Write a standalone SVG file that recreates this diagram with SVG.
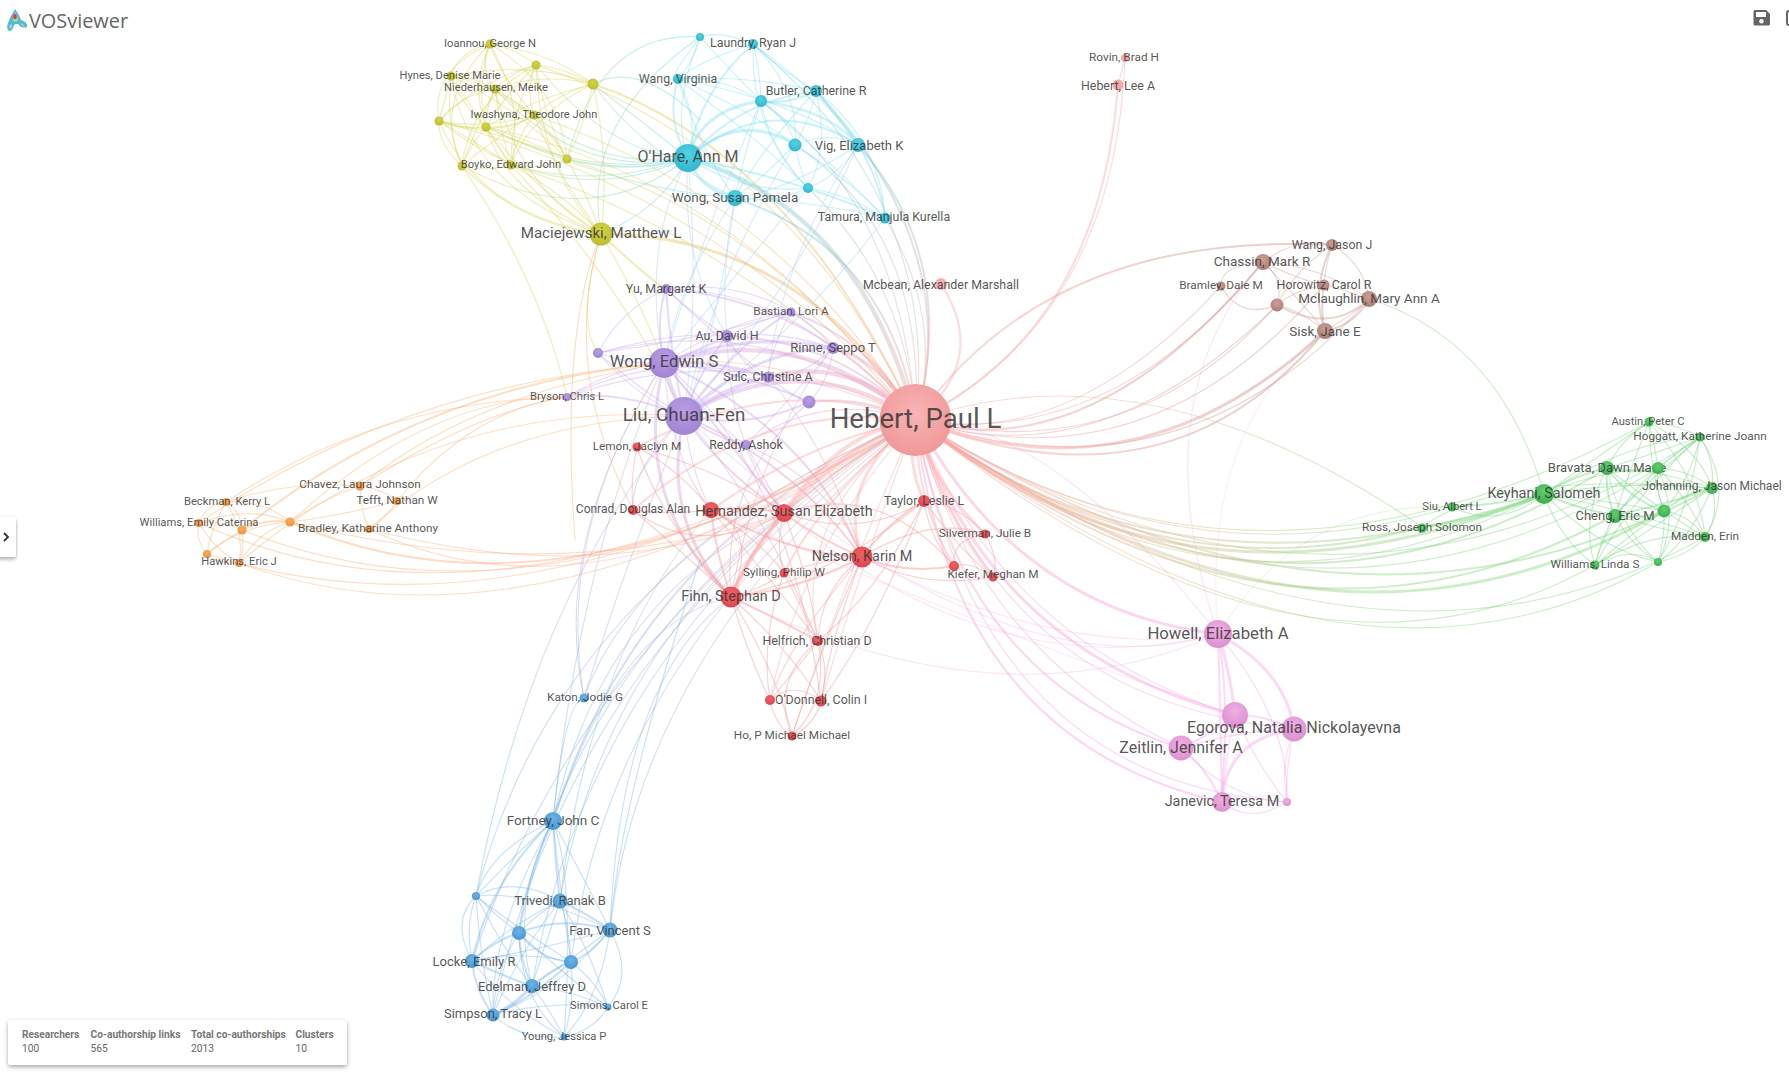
<svg xmlns="http://www.w3.org/2000/svg" width="1789" height="1076" viewBox="0 0 1789 1076">
<style>
text{font-family:Roboto,"Liberation Sans",sans-serif;fill:#333;fill-opacity:.84;text-anchor:middle;dominant-baseline:central}
.f27{font-size:27.6px}.f19{font-size:18.8px}.f17{font-size:16.7px}.f16{font-size:16px}.f15{font-size:15.1px}.f14{font-size:14.4px}.f13{font-size:13.5px}.f12d{font-size:13px}.f12c{font-size:12.4px}.f12{font-size:12px}.f11b{font-size:11.8px}.f11{font-size:11.2px}
#connectors path{fill:none;stroke-width:1.1;stroke-opacity:.42;stroke-linecap:round}
#connectors path.w2{stroke-width:2}#connectors path.w3{stroke-width:3}#connectors path.w4{stroke-width:4.2}
.cy{stroke:#d5d555}.cc{stroke:#7fe0f2}.cp{stroke:#c8a8f0}.cr{stroke:#ff8a8a}.cs{stroke:#ffa8a8}.cb{stroke:#78b6f0}.cg{stroke:#72d47c}.co{stroke:#fdb070}.cn{stroke:#c99a90}.ck{stroke:#f8a4e4}.cl{stroke:#a8cdf5}.cv{stroke:#c4c0ee}
.ui{fill:#666;fill-opacity:1}
.sh{fill:#fff;filter:url(#shadow)}
.st{text-anchor:start;font-size:10.2px;fill:#666;fill-opacity:1}
.sb{font-weight:700;fill:#777}
</style>
<defs>
<filter id="shadow" x="-10%" y="-30%" width="120%" height="170%"><feDropShadow dx="0" dy="2" stdDeviation="2" flood-color="#000" flood-opacity=".35"/></filter>
<filter id="soft" x="-30%" y="-30%" width="160%" height="160%"><feGaussianBlur stdDeviation=".7"/></filter>
<radialGradient id="ns" cx=".5" cy=".4" r=".6"><stop offset="0" stop-color="#f9b4b4"/><stop offset="1" stop-color="#ef9898"/></radialGradient>
<radialGradient id="nr" cx=".5" cy=".35" r=".65"><stop offset="0" stop-color="#f2625f"/><stop offset="1" stop-color="#dc4552"/></radialGradient>
<radialGradient id="np" cx=".5" cy=".35" r=".65"><stop offset="0" stop-color="#b99ce4"/><stop offset="1" stop-color="#a184d2"/></radialGradient>
<radialGradient id="ny" cx=".5" cy=".35" r=".65"><stop offset="0" stop-color="#d4d44a"/><stop offset="1" stop-color="#bcbc30"/></radialGradient>
<radialGradient id="nc" cx=".5" cy=".35" r=".65"><stop offset="0" stop-color="#52d2e4"/><stop offset="1" stop-color="#32b6cc"/></radialGradient>
<radialGradient id="nb" cx=".5" cy=".35" r=".65"><stop offset="0" stop-color="#6ab4e6"/><stop offset="1" stop-color="#4a96d2"/></radialGradient>
<radialGradient id="ng" cx=".5" cy=".35" r=".65"><stop offset="0" stop-color="#62cc70"/><stop offset="1" stop-color="#3cae50"/></radialGradient>
<radialGradient id="no" cx=".5" cy=".35" r=".65"><stop offset="0" stop-color="#fbae60"/><stop offset="1" stop-color="#ee923e"/></radialGradient>
<radialGradient id="nn" cx=".5" cy=".35" r=".65"><stop offset="0" stop-color="#c9a096"/><stop offset="1" stop-color="#ac7c72"/></radialGradient>
<radialGradient id="nk" cx=".5" cy=".35" r=".65"><stop offset="0" stop-color="#f0aee4"/><stop offset="1" stop-color="#dc90ce"/></radialGradient>
<linearGradient id="hg" gradientUnits="userSpaceOnUse" x1="916" y1="420" x2="1600" y2="500"><stop offset="0" stop-color="#ffa0a0"/><stop offset=".35" stop-color="#d8bb92"/><stop offset=".75" stop-color="#82d87c"/></linearGradient>
<linearGradient id="hb" gradientUnits="userSpaceOnUse" x1="916" y1="420" x2="1330" y2="300"><stop offset="0" stop-color="#ffa0a0"/><stop offset="1" stop-color="#c08c80"/></linearGradient>
<linearGradient id="hk" gradientUnits="userSpaceOnUse" x1="916" y1="420" x2="1220" y2="720"><stop offset="0" stop-color="#ffa6b0"/><stop offset="1" stop-color="#fa98ea"/></linearGradient>
<linearGradient id="hc" gradientUnits="userSpaceOnUse" x1="700" y1="160" x2="916" y2="420"><stop offset="0" stop-color="#5cd6ea"/><stop offset="1" stop-color="#f0a8a0"/></linearGradient>
<linearGradient id="hy" gradientUnits="userSpaceOnUse" x1="600" y1="150" x2="916" y2="420"><stop offset="0" stop-color="#d8d050"/><stop offset="1" stop-color="#ffa880"/></linearGradient>
<linearGradient id="ho" gradientUnits="userSpaceOnUse" x1="250" y1="520" x2="916" y2="420"><stop offset="0" stop-color="#fdae66"/><stop offset="1" stop-color="#ffa8a0"/></linearGradient>
<linearGradient id="hl" gradientUnits="userSpaceOnUse" x1="553" y1="821" x2="800" y2="480"><stop offset="0" stop-color="#78b6f0"/><stop offset=".6" stop-color="#b0b4dc"/><stop offset="1" stop-color="#dcb0b8"/></linearGradient>
<linearGradient id="hp" gradientUnits="userSpaceOnUse" x1="664" y1="380" x2="916" y2="420"><stop offset="0" stop-color="#c8a8f0"/><stop offset="1" stop-color="#f0a0b0"/></linearGradient>
<linearGradient id="pr" gradientUnits="userSpaceOnUse" x1="684" y1="416" x2="760" y2="600"><stop offset="0" stop-color="#c8a8f0"/><stop offset="1" stop-color="#ff8a8a"/></linearGradient>
<linearGradient id="yc" gradientUnits="userSpaceOnUse" x1="480" y1="140" x2="688" y2="158"><stop offset="0" stop-color="#d5d555"/><stop offset="1" stop-color="#62d8ee"/></linearGradient>
</defs>
<rect width="1789" height="1076" fill="#fff"/>
<g id="connectors">
<g class="cy">
<path d="M490 44Q515 48 536 65"/><path d="M490 44Q460 50 451 76"/><path d="M490 44Q478 65 495 89"/><path d="M490 44Q500 75 534 115"/><path d="M490 44Q430 70 439 121"/><path d="M490 44Q470 85 486 127"/><path d="M490 44Q432 100 462 166"/><path d="M490 44Q525 105 511 165"/><path d="M490 44Q550 52 593 84"/><path d="M490 44Q560 85 567 159"/>
<path d="M536 65Q565 68 593 84"/><path d="M536 65Q512 72 495 89"/><path d="M536 65Q525 90 534 115"/><path d="M536 65Q505 95 486 127"/><path d="M536 65Q480 80 439 121"/><path d="M536 65Q545 120 567 159"/><path d="M536 65Q510 115 511 165"/><path d="M536 65Q470 100 462 166"/>
<path d="M593 84Q562 92 534 115"/><path d="M593 84Q530 100 486 127"/><path d="M593 84Q585 125 567 159"/><path d="M593 84Q530 115 511 165"/><path d="M593 84Q610 160 601 234"/><path d="M593 84Q530 60 451 76"/><path d="M593 84Q540 72 495 89"/>
<path d="M451 76Q470 75 495 89"/><path d="M451 76Q445 100 439 121"/><path d="M451 76Q462 105 486 127"/><path d="M451 76Q495 85 534 115"/><path d="M451 76Q445 125 462 166"/><path d="M451 76Q480 120 511 165"/><path d="M451 76Q520 110 567 159"/>
<path d="M495 89Q505 100 534 115"/><path d="M495 89Q485 110 486 127"/><path d="M495 89Q460 95 439 121"/><path d="M495 89Q475 130 462 166"/><path d="M495 89Q500 130 511 165"/><path d="M495 89Q540 115 567 159"/>
<path d="M534 115Q510 130 486 127" class="w2"/><path d="M534 115Q485 130 439 121"/><path d="M534 115Q555 135 567 159"/><path d="M534 115Q505 130 462 166"/><path d="M534 115Q515 140 511 165"/>
<path d="M439 121Q460 130 486 127" class="w2"/><path d="M439 121Q438 145 462 166"/><path d="M439 121Q480 145 511 165"/><path d="M439 121Q510 135 567 159"/>
<path d="M486 127Q470 145 462 166"/><path d="M486 127Q500 150 511 165"/><path d="M486 127Q530 140 567 159"/>
<path d="M462 166Q490 172 511 165"/><path d="M511 165Q540 170 567 159"/>
<path d="M490 44Q450 170 601 234"/><path d="M536 65Q540 170 601 234"/><path d="M451 76Q470 190 601 234"/><path d="M495 89Q520 190 601 234"/><path d="M534 115Q560 180 601 234"/><path d="M439 121Q480 215 601 234"/><path d="M486 127Q540 195 601 234"/><path d="M462 166Q520 225 601 234"/><path d="M511 165Q560 190 601 234"/><path d="M567 159Q590 200 601 234"/>
<path d="M601 234Q650 280 666 289" class="w2"/><path d="M601 234Q640 300 664 363"/><path d="M601 234Q575 320 598 353"/><path d="M462 166Q540 280 567 397"/><path d="M511 165Q620 280 684 416"/>
</g>
<g style="stroke:url(#yc)">
<path d="M486 127Q590 180 688 158"/><path d="M439 121Q560 215 688 158"/><path d="M462 166Q590 235 688 158"/><path d="M534 115Q600 170 688 158"/><path d="M567 159Q630 175 688 158" class="w2"/><path d="M511 165Q600 190 688 158"/><path d="M495 89Q580 180 688 158"/><path d="M593 84Q640 120 688 158"/><path d="M601 234Q660 210 688 158"/><path d="M536 65Q610 155 688 158"/><path d="M700 37Q600 30 567 159"/><path d="M593 84Q640 60 700 120"/><path d="M601 234Q580 120 700 37"/><path d="M593 84Q640 150 735 198"/><path d="M486 127Q620 190 735 198"/>
</g>
<g style="stroke:url(#hy)">
<path d="M601 234Q800 235 916 420" class="w3"/><path d="M593 84Q790 150 916 420" class="w2"/><path d="M536 65Q790 150 916 420"/><path d="M534 115Q780 200 916 420"/><path d="M486 127Q740 180 916 420"/><path d="M511 165Q740 240 916 420"/><path d="M567 159Q770 220 916 420"/><path d="M439 121Q730 200 916 420"/>
</g>
<g class="cc">
<path d="M700 37Q720 30 753 44"/><path d="M700 37Q670 110 688 158"/><path d="M700 37Q695 60 678 79"/><path d="M700 37Q730 70 761 101"/><path d="M700 37Q660 90 678 79"/>
<path d="M753 44Q700 60 678 79"/><path d="M753 44Q700 90 688 158" class="w2"/><path d="M753 44Q780 70 816 91"/><path d="M753 44Q760 70 761 101"/><path d="M753 44Q800 90 795 145"/><path d="M753 44Q830 100 858 145"/><path d="M753 44Q750 130 808 188"/>
<path d="M678 79Q665 120 688 158" class="w2"/><path d="M678 79Q700 120 688 158"/><path d="M678 79Q720 75 761 101"/><path d="M678 79Q750 75 816 91"/><path d="M678 79Q750 110 795 145"/><path d="M678 79Q790 100 858 145"/><path d="M678 79Q700 150 735 198"/><path d="M678 79Q760 140 808 188"/>
<path d="M761 101Q790 105 816 91" class="w2"/><path d="M761 101Q700 110 688 158" class="w3"/><path d="M761 101Q790 120 795 145"/><path d="M761 101Q830 110 858 145" class="w2"/><path d="M761 101Q770 150 808 188"/><path d="M761 101Q745 150 735 198"/><path d="M761 101Q840 170 885 218"/>
<path d="M816 91Q740 100 688 158" class="w2"/><path d="M816 91Q840 120 858 145" class="w2"/><path d="M816 91Q810 120 795 145"/><path d="M816 91Q830 150 808 188"/><path d="M816 91Q880 140 885 218"/><path d="M816 91Q760 150 735 198"/>
<path d="M688 158Q740 110 795 145" class="w3"/><path d="M688 158Q770 90 858 145" class="w2"/><path d="M688 158Q745 195 808 188"/><path d="M688 158Q700 190 735 198" class="w3"/><path d="M688 158Q800 180 885 218" class="w2"/>
<path d="M795 145Q830 130 858 145"/><path d="M795 145Q800 170 808 188"/><path d="M795 145Q760 180 735 198"/><path d="M795 145Q850 180 885 218"/><path d="M858 145Q840 175 808 188"/><path d="M858 145Q880 180 885 218" class="w2"/><path d="M858 145Q790 190 735 198"/><path d="M808 188Q770 205 735 198"/><path d="M808 188Q850 195 885 218"/><path d="M735 198Q810 200 885 218"/>
</g>
<g style="stroke:url(#hc)">
<path d="M688 158Q860 210 916 420" class="w4"/><path d="M735 198Q890 250 916 420" class="w2"/><path d="M858 145Q960 260 916 420" class="w2"/><path d="M885 218Q945 320 916 420"/><path d="M816 91Q965 250 916 420" class="w2"/><path d="M795 145Q925 230 916 420"/><path d="M808 188Q905 280 916 420"/><path d="M753 44Q940 200 916 420"/><path d="M761 101Q900 200 916 420"/>
</g>
<g class="cl">
<path d="M688 158Q700 300 684 416"/><path d="M688 158Q640 250 664 363"/><path d="M735 198Q720 320 684 416"/><path d="M735 198Q680 280 664 363"/><path d="M735 198Q720 270 727 336"/><path d="M808 188Q740 270 664 363"/><path d="M858 145Q800 280 684 416"/><path d="M858 145Q780 260 768 377"/><path d="M885 218Q810 320 684 416"/><path d="M761 101Q700 240 664 363"/><path d="M688 158Q680 260 727 336"/><path d="M795 145Q720 260 684 416"/>
</g>
<g class="cp">
<path d="M684 416Q670 390 664 363" class="w4"/><path d="M684 416Q750 350 833 348" class="w3"/><path d="M684 416Q730 385 768 377" class="w4"/><path d="M684 416Q700 370 727 336" class="w2"/><path d="M684 416Q740 340 791 312" class="w2"/><path d="M684 416Q670 350 666 289" class="w2"/><path d="M684 416Q620 390 567 397" class="w2"/><path d="M684 416Q640 390 598 353"/><path d="M684 416Q720 440 746 445" class="w2"/><path d="M684 416Q750 430 809 402" class="w2"/>
<path d="M664 363Q750 330 833 348" class="w3"/><path d="M664 363Q720 360 768 377" class="w3"/><path d="M664 363Q700 350 727 336" class="w2"/><path d="M664 363Q730 320 791 312"/><path d="M664 363Q655 320 666 289" class="w2"/><path d="M664 363Q610 370 567 397"/><path d="M664 363Q630 365 598 353"/><path d="M664 363Q710 420 746 445"/><path d="M664 363Q740 370 809 402" class="w2"/>
<path d="M666 289Q720 340 768 377"/><path d="M666 289Q740 280 791 312"/><path d="M666 289Q760 290 833 348"/><path d="M666 289Q700 320 727 336"/><path d="M666 289Q620 310 598 353"/><path d="M727 336Q780 330 833 348"/><path d="M727 336Q745 370 768 377"/><path d="M727 336Q760 320 791 312"/><path d="M791 312Q820 330 833 348"/><path d="M791 312Q770 350 768 377"/><path d="M833 348Q800 380 768 377"/><path d="M833 348Q830 380 809 402"/><path d="M768 377Q790 395 809 402"/><path d="M598 353Q640 400 684 416"/><path d="M598 353Q680 330 727 336"/><path d="M598 353Q700 340 791 312"/><path d="M567 397Q660 350 768 377"/><path d="M746 445Q790 400 833 348"/>
</g>
<g style="stroke:url(#hp)">
<path d="M684 416Q800 345 916 420" class="w4"/><path d="M664 363Q800 320 916 420" class="w4"/><path d="M833 348Q880 360 916 420" class="w3"/><path d="M768 377Q850 355 916 420" class="w4"/><path d="M809 402Q860 395 916 420" class="w2"/><path d="M727 336Q840 340 916 420" class="w2"/><path d="M791 312Q870 340 916 420" class="w2"/><path d="M666 289Q810 300 916 420" class="w2"/><path d="M598 353Q770 310 916 420"/><path d="M746 445Q820 390 916 420"/><path d="M567 397Q740 335 916 420"/>
</g>
<g style="stroke:url(#pr)">
<path d="M684 416Q660 520 731 597" class="w3"/><path d="M684 416Q720 470 784 513" class="w2"/><path d="M684 416Q790 460 862 557" class="w2"/><path d="M684 416Q630 470 633 510"/><path d="M664 363Q630 500 731 597" class="w3"/><path d="M664 363Q810 430 862 557" class="w2"/><path d="M664 363Q720 430 784 513" class="w2"/><path d="M664 363Q670 460 711 510"/><path d="M684 416Q690 470 711 510"/><path d="M746 445Q770 490 784 513"/><path d="M746 445Q830 480 862 557"/><path d="M684 416Q760 500 818 641"/><path d="M664 363Q790 470 821 701"/><path d="M833 348Q760 440 731 597"/><path d="M768 377Q830 450 862 557"/><path d="M809 402Q720 480 731 597"/><path d="M727 336Q730 450 784 513"/>
</g>
<g style="stroke:url(#ho)">
<path d="M239 563Q530 670 916 420"/><path d="M369 529Q600 640 916 420"/><path d="M290 522Q560 640 916 420" class="w2"/><path d="M199 523Q500 660 916 420"/><path d="M242 530Q540 650 916 420"/><path d="M207 554Q520 655 916 420"/><path d="M369 529Q600 590 784 513"/><path d="M290 522Q560 590 784 513"/>
</g>
<g class="co">
<path d="M360 486Q470 395 664 363"/><path d="M242 530Q420 385 664 363" class="w2"/><path d="M239 563Q430 400 684 416"/><path d="M226 502Q380 400 567 397"/><path d="M290 522Q430 395 567 397"/><path d="M397 501Q470 410 567 397"/><path d="M199 523Q400 385 664 363"/><path d="M369 529Q490 420 684 416"/><path d="M360 486Q480 410 567 397"/><path d="M601 234Q560 370 633 510"/><path d="M601 234Q560 330 575 540"/><path d="M664 363Q780 350 916 420"/>
<path d="M226 502Q205 505 199 523"/><path d="M226 502Q240 510 242 530"/><path d="M226 502Q265 500 290 522"/><path d="M226 502Q210 530 207 554"/><path d="M226 502Q245 530 239 563"/><path d="M199 523Q220 520 242 530"/><path d="M199 523Q195 540 207 554"/><path d="M199 523Q215 550 239 563"/><path d="M199 523Q250 505 290 522"/><path d="M242 530Q225 540 207 554"/><path d="M242 530Q245 550 239 563"/><path d="M242 530Q265 518 290 522" class="w2"/><path d="M207 554Q220 565 239 563"/><path d="M290 522Q260 530 239 563"/><path d="M290 522Q240 525 207 554"/><path d="M290 522Q330 535 369 529"/><path d="M290 522Q320 500 360 486"/><path d="M290 522Q345 515 397 501"/><path d="M360 486Q385 490 397 501"/><path d="M360 486Q360 510 369 529"/><path d="M397 501Q385 520 369 529"/><path d="M226 502Q290 480 360 486"/>
</g>
<g class="cr">
<path d="M731 597Q750 550 784 513" class="w3"/><path d="M731 597Q715 550 711 510" class="w2"/><path d="M731 597Q800 590 862 557" class="w2"/><path d="M731 597Q760 590 784 573"/><path d="M731 597Q780 620 818 641" class="w2"/><path d="M731 597Q790 650 821 701"/><path d="M731 597Q750 660 770 700"/><path d="M731 597Q780 680 792 736"/><path d="M731 597Q680 550 633 510"/><path d="M731 597Q660 520 637 447"/><path d="M731 597Q830 580 924 501"/><path d="M731 597Q760 530 711 510"/>
<path d="M784 513Q820 540 862 557" class="w2"/><path d="M784 513Q775 545 784 573"/><path d="M784 513Q810 580 818 641"/><path d="M711 510Q745 505 784 513" class="w2"/><path d="M711 510Q790 555 862 557" class="w2"/><path d="M711 510Q680 470 637 447"/><path d="M711 510Q670 515 633 510"/><path d="M711 510Q760 540 784 573"/><path d="M711 510Q780 590 818 641"/><path d="M633 510Q700 560 784 513"/><path d="M637 447Q720 470 784 513"/><path d="M637 447Q630 480 633 510"/>
<path d="M862 557Q890 520 924 501" class="w2"/><path d="M862 557Q930 515 985 534"/><path d="M862 557Q920 590 993 577"/><path d="M862 557Q905 575 954 566" class="w2"/><path d="M862 557Q820 590 818 641"/><path d="M862 557Q820 560 784 573"/><path d="M862 557Q830 640 821 701"/><path d="M862 557Q790 640 770 700"/><path d="M784 573Q800 605 818 641"/><path d="M784 573Q760 640 770 700"/><path d="M784 513Q860 540 924 501"/><path d="M784 513Q880 480 954 566"/>
<path d="M818 641Q830 670 821 701"/><path d="M818 641Q800 665 770 700"/><path d="M818 641Q830 700 792 736"/><path d="M818 641Q770 680 792 736"/><path d="M821 701Q815 725 792 736"/><path d="M770 700Q775 725 792 736"/><path d="M770 700Q795 680 821 701"/><path d="M821 701Q880 620 924 501"/><path d="M818 641Q880 590 924 501"/><path d="M792 736Q820 650 862 557"/>
<path d="M924 501Q960 505 985 534"/><path d="M924 501Q960 550 993 577"/><path d="M924 501Q930 540 954 566"/><path d="M985 534Q950 540 954 566"/><path d="M985 534Q1000 560 993 577"/><path d="M954 566Q970 560 993 577"/><path d="M1218 634Q1060 660 862 557" style="stroke:#f8c0e0"/><path d="M1218 634Q1000 730 731 597" style="stroke:#f8c0e0"/><path d="M1218 634Q1000 690 784 513" style="stroke:#f8c0e0"/><path d="M1218 634Q1000 700 684 416" style="stroke:#e4c4f0"/><path d="M1218 634Q1050 420 916 420" style="stroke:#e4c4f0"/><path d="M1235 715Q1010 640 711 510" style="stroke:#f8c0e0"/>
</g>
<g class="cs">
<path d="M916 420Q905 460 924 501" class="w3"/><path d="M916 420Q930 480 985 534" class="w3"/><path d="M916 420Q915 500 954 566" class="w2"/><path d="M916 420Q940 510 993 577" class="w3"/><path d="M916 420Q835 480 862 557" class="w3"/><path d="M916 420Q840 430 784 513" class="w4"/><path d="M916 420Q790 470 731 597" class="w4"/><path d="M916 420Q810 440 711 510" class="w2"/><path d="M916 420Q820 500 784 573" class="w2"/><path d="M916 420Q790 520 818 641"/><path d="M916 420Q860 570 821 701"/><path d="M916 420Q800 550 770 700"/><path d="M916 420Q840 590 792 736"/><path d="M916 420Q780 370 637 447" class="w2"/><path d="M916 420Q760 400 633 510" class="w2"/><path d="M916 420Q1100 330 1118 85" class="w2"/><path d="M916 420Q1115 320 1125 58"/><path d="M1118 85Q1122 70 1125 58"/><path d="M916 420Q990 360 941 284" class="w2"/>
</g>
<g style="stroke:url(#hb)">
<path d="M916 420Q1050 230 1332 245" class="w2"/><path d="M916 420Q1140 505 1325 331" class="w3"/><path d="M916 420Q1170 520 1325 331" class="w2"/><path d="M916 420Q1180 510 1369 299"/><path d="M916 420Q1150 490 1324 285"/><path d="M916 420Q1100 480 1277 305"/><path d="M916 420Q1090 470 1263 262" class="w2"/><path d="M916 420Q1110 450 1263 262"/><path d="M916 420Q1070 450 1221 286"/><path d="M916 420Q1130 470 1277 305"/>
</g>
<g class="cn">
<path d="M1263 262Q1300 235 1332 245"/><path d="M1263 262Q1220 265 1221 286"/><path d="M1263 262Q1300 280 1324 285"/><path d="M1263 262Q1285 280 1277 305"/><path d="M1263 262Q1320 265 1369 299"/><path d="M1263 262Q1300 300 1325 331"/><path d="M1332 245Q1325 265 1324 285"/><path d="M1332 245Q1295 270 1277 305"/><path d="M1332 245Q1365 265 1369 299"/><path d="M1332 245Q1310 290 1325 331" class="w2"/><path d="M1221 286Q1240 320 1277 305"/><path d="M1324 285Q1345 290 1369 299"/><path d="M1324 285Q1320 310 1325 331" class="w2"/><path d="M1324 285Q1295 290 1277 305"/><path d="M1277 305Q1330 335 1369 299" class="w2"/><path d="M1277 305Q1300 310 1325 331"/><path d="M1369 299Q1355 325 1325 331" class="w2"/><path d="M1369 299Q1360 310 1325 331"/>
</g>
<g style="stroke:url(#hg)">
<path d="M916 420Q1190 640 1544 494" class="w3"/><path d="M916 420Q1180 590 1452 507"/><path d="M916 420Q1160 600 1422 527" class="w2"/><path d="M916 420Q1280 700 1615 515" class="w2"/><path d="M916 420Q1320 710 1664 511" class="w3"/><path d="M916 420Q1340 690 1712 488" class="w2"/><path d="M916 420Q1270 680 1607 468" class="w2"/><path d="M916 420Q1300 690 1658 468"/><path d="M916 420Q1330 680 1700 437"/><path d="M916 420Q1300 730 1595 565"/><path d="M916 420Q1340 745 1658 562"/><path d="M916 420Q1360 730 1705 537"/><path d="M916 420Q1250 640 1649 422"/><path d="M916 420Q1150 340 1422 527"/><path d="M916 420Q1180 620 1544 494" class="w2"/><path d="M916 420Q1220 660 1544 494"/><path d="M1369 299Q1500 340 1544 494"/><path d="M1218 634Q1300 500 1452 507" style="stroke-opacity:.2"/>
</g>
<g class="cg">
<path d="M1544 494Q1600 455 1649 422"/><path d="M1544 494Q1630 440 1700 437"/><path d="M1544 494Q1575 475 1607 468" class="w2"/><path d="M1544 494Q1600 470 1658 468"/><path d="M1544 494Q1630 480 1712 488"/><path d="M1544 494Q1580 510 1615 515" class="w2"/><path d="M1544 494Q1600 500 1664 511"/><path d="M1544 494Q1560 540 1595 565"/><path d="M1544 494Q1600 550 1658 562"/><path d="M1544 494Q1630 510 1705 537"/><path d="M1544 494Q1500 505 1452 507" class="w2"/><path d="M1544 494Q1480 520 1422 527" class="w3"/><path d="M1452 507Q1500 530 1544 494"/>
<path d="M1649 422Q1620 440 1607 468"/><path d="M1649 422Q1655 445 1658 468"/><path d="M1649 422Q1680 425 1700 437"/><path d="M1649 422Q1700 450 1712 488"/><path d="M1649 422Q1630 470 1615 515"/><path d="M1649 422Q1650 470 1664 511"/><path d="M1649 422Q1700 480 1705 537"/>
<path d="M1700 437Q1650 455 1607 468"/><path d="M1700 437Q1680 450 1658 468" class="w2"/><path d="M1700 437Q1715 460 1712 488"/><path d="M1700 437Q1650 480 1615 515"/><path d="M1700 437Q1690 480 1664 511"/><path d="M1700 437Q1735 490 1705 537"/><path d="M1700 437Q1630 500 1595 565"/><path d="M1700 437Q1690 510 1658 562"/>
<path d="M1607 468Q1632 475 1658 468" class="w2"/><path d="M1607 468Q1660 470 1712 488"/><path d="M1607 468Q1605 495 1615 515" class="w2"/><path d="M1607 468Q1630 500 1664 511" class="w2"/><path d="M1607 468Q1660 510 1705 537"/><path d="M1607 468Q1580 520 1595 565"/><path d="M1607 468Q1620 530 1658 562"/>
<path d="M1658 468Q1690 470 1712 488"/><path d="M1658 468Q1640 490 1615 515"/><path d="M1658 468Q1655 490 1664 511"/><path d="M1658 468Q1690 500 1705 537"/><path d="M1658 468Q1610 510 1595 565"/><path d="M1658 468Q1680 520 1658 562"/>
<path d="M1712 488Q1665 505 1615 515" class="w2"/><path d="M1712 488Q1690 490 1664 511" class="w2"/><path d="M1712 488Q1720 515 1705 537"/><path d="M1712 488Q1650 530 1595 565"/><path d="M1712 488Q1690 540 1658 562"/>
<path d="M1615 515Q1640 520 1664 511" class="w2"/><path d="M1615 515Q1660 530 1705 537"/><path d="M1615 515Q1600 540 1595 565"/><path d="M1615 515Q1630 545 1658 562"/><path d="M1664 511Q1690 515 1705 537"/><path d="M1664 511Q1630 535 1595 565"/><path d="M1664 511Q1665 540 1658 562"/><path d="M1705 537Q1690 555 1658 562"/><path d="M1705 537Q1650 530 1595 565"/><path d="M1595 565Q1630 545 1658 562"/><path d="M1712 488Q1500 470 1422 527"/>
</g>
<g style="stroke:url(#hk)">
<path d="M916 420Q1020 610 1218 634" class="w3"/><path d="M916 420Q990 650 1235 715" class="w3"/><path d="M916 420Q1000 640 1235 715"/><path d="M916 420Q1000 700 1294 729"/><path d="M916 420Q960 680 1181 748" class="w2"/><path d="M916 420Q950 740 1222 802" class="w2"/><path d="M916 420Q980 780 1287 802"/><path d="M916 420Q975 650 1181 748"/>
</g>
<g class="ck">
<path d="M1218 634Q1220 700 1222 802" class="w2"/><path d="M1218 634Q1230 670 1235 715" class="w3"/><path d="M1218 634Q1230 700 1222 790" class="w2"/><path d="M1218 634Q1285 670 1294 729" class="w3"/><path d="M1235 715Q1265 715 1294 729" class="w2"/><path d="M1235 715Q1210 735 1181 748" class="w2"/><path d="M1235 715Q1225 760 1222 802"/><path d="M1235 715Q1260 770 1287 802"/><path d="M1181 748Q1205 765 1222 802" class="w2"/><path d="M1294 729Q1225 740 1222 802" class="w3"/><path d="M1222 802Q1250 825 1287 802"/><path d="M1294 729Q1285 770 1287 802"/><path d="M1294 729Q1280 765 1287 802"/><path d="M1218 634Q1290 720 1287 802"/><path d="M1181 748Q1230 800 1287 802"/><path d="M1181 748Q1240 730 1294 729"/>
<path d="M1218 634Q1140 400 1263 262" style="stroke-opacity:.3"/><path d="M1218 634Q1200 430 1325 331" style="stroke-opacity:.2"/>
</g>
<g style="stroke:url(#hl)">
<path d="M553 821Q640 540 916 420" class="w2"/><path d="M476 896Q560 570 916 420"/><path d="M472 961Q590 620 916 420"/><path d="M610 930Q640 650 916 420"/><path d="M560 901Q610 600 916 420"/><path d="M519 933Q580 620 916 420"/><path d="M571 962Q610 650 916 420"/><path d="M532 986Q590 640 916 420"/><path d="M493 1015Q570 640 916 420"/><path d="M584 698Q640 540 916 420"/><path d="M553 821Q600 600 784 513"/><path d="M553 821Q620 620 731 597"/><path d="M610 930Q620 680 731 597"/><path d="M560 901Q590 650 711 510"/><path d="M584 698Q620 580 684 416"/><path d="M553 821Q580 560 664 363"/><path d="M476 896Q530 600 684 416"/><path d="M584 698Q550 540 664 363"/><path d="M584 698Q555 530 664 363"/>
</g>
<g class="cb">
<path d="M553 821Q530 840 476 896"/><path d="M553 821Q490 850 476 896"/><path d="M553 821Q555 860 560 901" class="w2"/><path d="M553 821Q525 880 519 933" class="w2"/><path d="M553 821Q590 890 610 930"/><path d="M553 821Q560 890 571 962"/><path d="M553 821Q490 880 472 961" class="w2"/><path d="M553 821Q510 900 532 986"/><path d="M553 821Q490 930 493 1015"/><path d="M553 821Q575 880 564 1037"/><path d="M553 821Q565 700 584 698"/>
<path d="M476 896Q515 875 560 901"/><path d="M476 896Q495 915 519 933"/><path d="M476 896Q465 925 472 961"/><path d="M476 896Q530 890 610 930"/><path d="M476 896Q510 960 532 986"/><path d="M476 896Q480 960 493 1015"/><path d="M476 896Q520 930 571 962"/>
<path d="M560 901Q590 915 610 930" class="w2"/><path d="M560 901Q535 915 519 933"/><path d="M560 901Q570 930 571 962"/><path d="M560 901Q510 925 472 961"/><path d="M560 901Q545 945 532 986"/><path d="M560 901Q520 950 493 1015"/><path d="M560 901Q590 950 608 1007"/>
<path d="M610 930Q560 915 519 933" class="w2"/><path d="M610 930Q590 955 571 962" class="w2"/><path d="M610 930Q540 950 472 961"/><path d="M610 930Q570 960 532 986"/><path d="M610 930Q560 990 493 1015"/><path d="M610 930Q635 975 608 1007"/><path d="M610 930Q600 1000 564 1037"/>
<path d="M519 933Q540 960 571 962" class="w2"/><path d="M519 933Q495 940 472 961" class="w2"/><path d="M519 933Q520 960 532 986" class="w2"/><path d="M519 933Q495 970 493 1015"/><path d="M519 933Q570 980 608 1007"/><path d="M519 933Q520 1000 564 1037"/>
<path d="M571 962Q520 950 472 961"/><path d="M571 962Q550 970 532 986" class="w2"/><path d="M571 962Q530 1000 493 1015" class="w2"/><path d="M571 962Q595 980 608 1007"/><path d="M571 962Q575 1000 564 1037"/>
<path d="M472 961Q500 975 532 986" class="w2"/><path d="M472 961Q475 990 493 1015" class="w2"/><path d="M472 961Q510 1010 564 1037"/><path d="M532 986Q515 1005 493 1015" class="w3"/><path d="M532 986Q550 1010 564 1037"/><path d="M532 986Q570 990 608 1007"/><path d="M493 1015Q520 1040 564 1037"/><path d="M564 1037Q595 1030 608 1007"/><path d="M493 1015Q550 1000 608 1007"/><path d="M472 961Q450 920 476 896"/><path d="M610 930Q620 800 700 560"/>
</g>
</g>
<g id="nodes">
<g id="n-ioannou"><circle cx="490" cy="44" r="4.5" fill="url(#ny)"/><text x="490" y="43" class="f11">Ioannou, George N</text></g>
<g id="n-y2"><circle cx="536" cy="65" r="4.5" fill="url(#ny)"/></g>
<g id="n-y3"><circle cx="593" cy="84" r="5.5" fill="url(#ny)"/></g>
<g id="n-hynes"><circle cx="451" cy="76" r="4.5" fill="url(#ny)"/><text x="450" y="75" class="f11">Hynes, Denise Marie</text></g>
<g id="n-nieder"><circle cx="495" cy="89" r="4.5" fill="url(#ny)"/><text x="496" y="87" class="f11">Niederhausen, Meike</text></g>
<g id="n-iwashyna"><circle cx="534" cy="115" r="4.5" fill="url(#ny)"/><text x="534" y="114" class="f11">Iwashyna, Theodore John</text></g>
<g id="n-y7"><circle cx="439" cy="121" r="4.5" fill="url(#ny)"/></g>
<g id="n-y8"><circle cx="486" cy="127" r="4.5" fill="url(#ny)"/></g>
<g id="n-y9"><circle cx="567" cy="159" r="4.5" fill="url(#ny)"/></g>
<g id="n-y10"><circle cx="462" cy="166" r="4.5" fill="url(#ny)"/></g>
<g id="n-boyko"><circle cx="511" cy="165" r="4.5" fill="url(#ny)"/><text x="511" y="164" class="f11">Boyko, Edward John</text></g>
<g id="n-maciejewski"><circle cx="601" cy="234" r="11.5" fill="url(#ny)"/><text x="601" y="233" class="f15">Maciejewski, Matthew L</text></g>
<g id="n-c1"><circle cx="700" cy="37" r="4" fill="url(#nc)"/></g>
<g id="n-laundry"><circle cx="753" cy="44" r="5" fill="url(#nc)"/><text x="753" y="42" class="f12c">Laundry, Ryan J</text></g>
<g id="n-wangv"><circle cx="678" cy="79" r="5" fill="url(#nc)"/><text x="678" y="78" class="f12c">Wang, Virginia</text></g>
<g id="n-butler"><circle cx="816" cy="91" r="6" fill="url(#nc)"/><text x="816" y="90" class="f12c">Butler, Catherine R</text></g>
<g id="n-c5"><circle cx="761" cy="101" r="6" fill="url(#nc)"/></g>
<g id="n-ohare"><circle cx="688" cy="158" r="14" fill="url(#nc)"/><text x="688" y="156" class="f16">O'Hare, Ann M</text></g>
<g id="n-c7"><circle cx="795" cy="145" r="6.5" fill="url(#nc)"/></g>
<g id="n-vig"><circle cx="858" cy="145" r="7" fill="url(#nc)"/><text x="859" y="145" class="f12d">Vig, Elizabeth K</text></g>
<g id="n-c9"><circle cx="808" cy="188" r="5" fill="url(#nc)"/></g>
<g id="n-wongp"><circle cx="735" cy="198" r="8" fill="url(#nc)"/><text x="735" y="197" class="f13">Wong, Susan Pamela</text></g>
<g id="n-tamura"><circle cx="885" cy="218" r="5.5" fill="url(#nc)"/><text x="884" y="216" class="f12c">Tamura, Manjula Kurella</text></g>
<g id="n-mcbean"><circle cx="941" cy="284" r="6" fill="#f7a8a8" fill-opacity=".9"/><text x="941" y="284" class="f12c">Mcbean, Alexander Marshall</text></g>
<g id="n-yu"><circle cx="666" cy="289" r="5" fill="url(#np)"/><text x="666" y="288" class="f12c">Yu, Margaret K</text></g>
<g id="n-bastian"><circle cx="791" cy="312" r="4.5" fill="url(#np)"/><text x="791" y="311" class="f11b">Bastian, Lori A</text></g>
<g id="n-au"><circle cx="727" cy="336" r="6" fill="url(#np)"/><text x="727" y="335" class="f12c">Au, David H</text></g>
<g id="n-rinne"><circle cx="833" cy="348" r="6" fill="url(#np)"/><text x="833" y="347" class="f12d">Rinne, Seppo T</text></g>
<g id="n-p5"><circle cx="598" cy="353" r="5" fill="url(#np)"/></g>
<g id="n-wonge"><circle cx="664" cy="363" r="15" fill="url(#np)"/><text x="664" y="361" class="f17">Wong, Edwin S</text></g>
<g id="n-sulc"><circle cx="768" cy="377" r="5.5" fill="url(#np)"/><text x="768" y="376" class="f12c">Sulc, Christine A</text></g>
<g id="n-p8"><circle cx="809" cy="402" r="6.5" fill="url(#np)"/></g>
<g id="n-bryson"><circle cx="567" cy="397" r="4" fill="url(#np)"/><text x="567" y="396" class="f11">Bryson, Chris L</text></g>
<g id="n-liu"><circle cx="684" cy="416" r="19" fill="url(#np)"/><text x="684" y="415" class="f19">Liu, Chuan-Fen</text></g>
<g id="n-reddy"><circle cx="746" cy="445" r="5" fill="url(#np)"/><text x="746" y="444" class="f12c">Reddy, Ashok</text></g>
<g id="n-lemon"><circle cx="637" cy="447" r="4.5" fill="url(#nr)"/><text x="637" y="446" class="f11b">Lemon, Jaclyn M</text></g>
<g id="n-conrad"><circle cx="633" cy="510" r="5" fill="url(#nr)"/><text x="633" y="509" class="f12">Conrad, Douglas Alan</text></g>
<g id="n-r3"><circle cx="711" cy="510" r="8" fill="url(#nr)"/></g>
<g id="n-hernandez"><circle cx="784" cy="513" r="9" fill="url(#nr)"/><text x="784" y="511" class="f14">Hernandez, Susan Elizabeth</text></g>
<g id="n-taylor"><circle cx="924" cy="501" r="6" fill="url(#nr)"/><text x="924" y="500" class="f12c">Taylor, Leslie L</text></g>
<g id="n-silverman"><circle cx="985" cy="534" r="4.5" fill="url(#nr)"/><text x="985" y="533" class="f11b">Silverman, Julie B</text></g>
<g id="n-r7"><circle cx="954" cy="566" r="5" fill="url(#nr)"/></g>
<g id="n-kiefer"><circle cx="993" cy="577" r="4.5" fill="url(#nr)"/><text x="993" y="574" class="f11b">Kiefer, Meghan M</text></g>
<g id="n-nelson"><circle cx="862" cy="557" r="10.5" fill="url(#nr)"/><text x="862" y="556" class="f14">Nelson, Karin M</text></g>
<g id="n-sylling"><circle cx="784" cy="573" r="4.5" fill="url(#nr)"/><text x="784" y="572" class="f11b">Sylling, Philip W</text></g>
<g id="n-fihn"><circle cx="731" cy="597" r="10.5" fill="url(#nr)"/><text x="731" y="596" class="f14">Fihn, Stephan D</text></g>
<g id="n-helfrich"><circle cx="818" cy="641" r="5" fill="url(#nr)"/><text x="817" y="640" class="f12c">Helfrich, Christian D</text></g>
<g id="n-r12"><circle cx="770" cy="700" r="5" fill="url(#nr)"/></g>
<g id="n-odonnell"><circle cx="821" cy="701" r="5.5" fill="url(#nr)"/><text x="821" y="699" class="f12c">O'Donnell, Colin I</text></g>
<g id="n-ho"><circle cx="792" cy="736" r="4.5" fill="url(#nr)"/><text x="792" y="735" class="f11b">Ho, P Michael Michael</text></g>
<g id="n-chavez"><circle cx="360" cy="486" r="4.5" fill="url(#no)"/><text x="360" y="484" class="f11b">Chavez, Laura Johnson</text></g>
<g id="n-tefft"><circle cx="397" cy="501" r="4" fill="url(#no)"/><text x="397" y="500" class="f11b">Tefft, Nathan W</text></g>
<g id="n-beckman"><circle cx="226" cy="502" r="4" fill="url(#no)"/><text x="227" y="501" class="f11">Beckman, Kerry L</text></g>
<g id="n-williamse"><circle cx="199" cy="523" r="4" fill="url(#no)"/><text x="199" y="522" class="f11">Williams, Emily Caterina</text></g>
<g id="n-o5"><circle cx="242" cy="530" r="4.5" fill="url(#no)"/></g>
<g id="n-o6"><circle cx="290" cy="522" r="4.5" fill="url(#no)"/></g>
<g id="n-bradley"><circle cx="369" cy="529" r="4" fill="url(#no)"/><text x="368" y="528" class="f11b">Bradley, Katharine Anthony</text></g>
<g id="n-o8"><circle cx="207" cy="554" r="4" fill="url(#no)"/></g>
<g id="n-hawkins"><circle cx="239" cy="563" r="4" fill="url(#no)"/><text x="239" y="561" class="f11">Hawkins, Eric J</text></g>
<g id="n-katon"><circle cx="584" cy="698" r="4.5" fill="url(#nb)"/><text x="585" y="697" class="f11b">Katon, Jodie G</text></g>
<g id="n-fortney"><circle cx="553" cy="821" r="9" fill="url(#nb)"/><text x="553" y="820" class="f13">Fortney, John C</text></g>
<g id="n-b3"><circle cx="476" cy="896" r="4" fill="url(#nb)"/></g>
<g id="n-trivedi"><circle cx="560" cy="901" r="7.5" fill="url(#nb)"/><text x="560" y="900" class="f12d">Trivedi, Ranak B</text></g>
<g id="n-fan"><circle cx="610" cy="930" r="7.5" fill="url(#nb)"/><text x="610" y="930" class="f12d">Fan, Vincent S</text></g>
<g id="n-b6"><circle cx="519" cy="933" r="7" fill="url(#nb)"/></g>
<g id="n-b7"><circle cx="571" cy="962" r="7" fill="url(#nb)"/></g>
<g id="n-locke"><circle cx="472" cy="961" r="7" fill="url(#nb)"/><text x="474" y="961" class="f12d">Locke, Emily R</text></g>
<g id="n-edelman"><circle cx="532" cy="986" r="7" fill="url(#nb)"/><text x="532" y="986" class="f12d">Edelman, Jeffrey D</text></g>
<g id="n-simons"><circle cx="608" cy="1007" r="3.5" fill="url(#nb)"/><text x="609" y="1005" class="f11">Simons, Carol E</text></g>
<g id="n-simpson"><circle cx="493" cy="1015" r="6.5" fill="url(#nb)"/><text x="493" y="1013" class="f12d">Simpson, Tracy L</text></g>
<g id="n-young"><circle cx="564" cy="1037" r="3.5" fill="url(#nb)"/><text x="564" y="1036" class="f11">Young, Jessica P</text></g>
<g id="n-rovin"><circle cx="1125" cy="58" r="4" fill="#f7a8a8"/><text x="1124" y="57" class="f11b">Rovin, Brad H</text></g>
<g id="n-heberl"><circle cx="1118" cy="85" r="5.5" fill="#f7a8a8"/><text x="1118" y="85" class="f12c">Hebert, Lee A</text></g>
<g id="n-wangj"><circle cx="1332" cy="245" r="6" fill="url(#nn)"/><text x="1332" y="244" class="f12c">Wang, Jason J</text></g>
<g id="n-chassin"><circle cx="1263" cy="262" r="8" fill="url(#nn)"/><text x="1262" y="261" class="f13">Chassin, Mark R</text></g>
<g id="n-bramley"><circle cx="1221" cy="286" r="4.5" fill="url(#nn)"/><text x="1221" y="285" class="f11b">Bramley, Dale M</text></g>
<g id="n-horowitz"><circle cx="1324" cy="285" r="5.5" fill="url(#nn)"/><text x="1324" y="284" class="f12c">Horowitz, Carol R</text></g>
<g id="n-n5"><circle cx="1277" cy="305" r="6.5" fill="url(#nn)"/></g>
<g id="n-mclaughlin"><circle cx="1369" cy="299" r="8" fill="url(#nn)"/><text x="1369" y="298" class="f13">Mclaughlin, Mary Ann A</text></g>
<g id="n-sisk"><circle cx="1325" cy="331" r="8" fill="url(#nn)"/><text x="1325" y="331" class="f13">Sisk, Jane E</text></g>
<g id="n-austin"><circle cx="1649" cy="422" r="4.5" fill="url(#ng)"/><text x="1648" y="421" class="f11">Austin, Peter C</text></g>
<g id="n-hoggatt"><circle cx="1700" cy="437" r="4.5" fill="url(#ng)"/><text x="1700" y="436" class="f11b">Hoggatt, Katherine Joann</text></g>
<g id="n-bravata"><circle cx="1607" cy="468" r="7" fill="url(#ng)"/><text x="1607" y="467" class="f12d">Bravata, Dawn Marie</text></g>
<g id="n-g4"><circle cx="1658" cy="468" r="6" fill="url(#ng)"/></g>
<g id="n-johanning"><circle cx="1712" cy="488" r="6" fill="url(#ng)"/><text x="1712" y="486" class="f12">Johanning, Jason Michael</text></g>
<g id="n-keyhani"><circle cx="1544" cy="494" r="10" fill="url(#ng)"/><text x="1544" y="493" class="f14">Keyhani, Salomeh</text></g>
<g id="n-siu"><circle cx="1452" cy="507" r="4.5" fill="url(#ng)"/><text x="1452" y="506" class="f11">Siu, Albert L</text></g>
<g id="n-cheng"><circle cx="1615" cy="516" r="7" fill="url(#ng)"/><text x="1615" y="515" class="f12d">Cheng, Eric M</text></g>
<g id="n-g9"><circle cx="1664" cy="511" r="6.5" fill="url(#ng)"/></g>
<g id="n-ross"><circle cx="1422" cy="528" r="4.5" fill="url(#ng)"/><text x="1422" y="527" class="f11b">Ross, Joseph Solomon</text></g>
<g id="n-madden"><circle cx="1705" cy="537" r="5" fill="url(#ng)"/><text x="1705" y="536" class="f11b">Madden, Erin</text></g>
<g id="n-williamsl"><circle cx="1595" cy="565" r="4.5" fill="url(#ng)"/><text x="1595" y="564" class="f11b">Williams, Linda S</text></g>
<g id="n-g13"><circle cx="1658" cy="562" r="4" fill="url(#ng)"/></g>
<g id="n-howell"><circle cx="1218" cy="634" r="14" fill="url(#nk)"/><text x="1218" y="633" class="f17">Howell, Elizabeth A</text></g>
<g id="n-k2"><circle cx="1235" cy="715" r="13" fill="url(#nk)"/></g>
<g id="n-egorova"><circle cx="1294" cy="729" r="12.5" fill="url(#nk)"/><text x="1294" y="727" class="f16">Egorova, Natalia Nickolayevna</text></g>
<g id="n-zeitlin"><circle cx="1181" cy="748" r="12.5" fill="url(#nk)"/><text x="1181" y="747" class="f16">Zeitlin, Jennifer A</text></g>
<g id="n-janevic"><circle cx="1222" cy="802" r="10" fill="url(#nk)"/><text x="1222" y="801" class="f14">Janevic, Teresa M</text></g>
<g id="n-k6"><circle cx="1287" cy="802" r="4" fill="url(#nk)"/></g>
<g id="n-hebert"><circle cx="915.5" cy="420" r="36" fill="url(#ns)"/><text x="915.5" y="418" class="f27">Hebert, Paul L</text></g>
</g>
<g id="ui">
<g filter="url(#soft)"><path d="M15 9Q19 14 21 20Q28 22 27 27Q22 29 18 24Q15 24 14 25Q13 31 9 31Q6 29 8 23Q11 15 15 9Z" fill="#4fb8e6"/><path d="M15 12Q18 17 18 21Q15 22 13 21Q13 16 15 12ZM11 24Q13 25 11.500 28Q9 29 9.500 26ZM20 23Q24 24 25 26Q22 27 20 23Z" fill="#b8e070"/><ellipse cx="15" cy="16.500" rx="1.800" ry="2.800" fill="#e83a30"/></g>
<text x="29" y="20" class="ui" style="font-family:'Open Sans',sans-serif;font-size:19.9px;text-anchor:start">VOSviewer</text>
<path class="ui" d="M1755 10h11l4 4v10a1.500 1.500 0 0 1-1.500 1.500h-13.500a1.500 1.500 0 0 1-1.500-1.500v-12.500a1.500 1.500 0 0 1 1.500-1.500zM1756 12v5h10v-5zM1761.500 19a2.300 2.300 0 1 0 .01 0z" fill-rule="evenodd"/>
<rect x="1787" y="11" width="10" height="14" rx="2" fill="none" stroke="#666" stroke-width="2"/>
<rect class="sh" x="-4" y="517" width="20" height="40" rx="3"/>
<path d="M4 533l4 4l-4 4" fill="none" stroke="#333" stroke-width="1.800"/>
<rect class="sh" x="8" y="1020" width="339" height="45" rx="3"/>
<text x="22" y="1034.500" class="st sb">Researchers</text><text x="22" y="1048" class="st">100</text>
<text x="90.500" y="1034.500" class="st sb">Co-authorship links</text><text x="90.500" y="1048" class="st">565</text>
<text x="191" y="1034.500" class="st sb">Total co-authorships</text><text x="191" y="1048" class="st">2013</text>
<text x="295.500" y="1034.500" class="st sb">Clusters</text><text x="295.500" y="1048" class="st">10</text>
</g>
</svg>
